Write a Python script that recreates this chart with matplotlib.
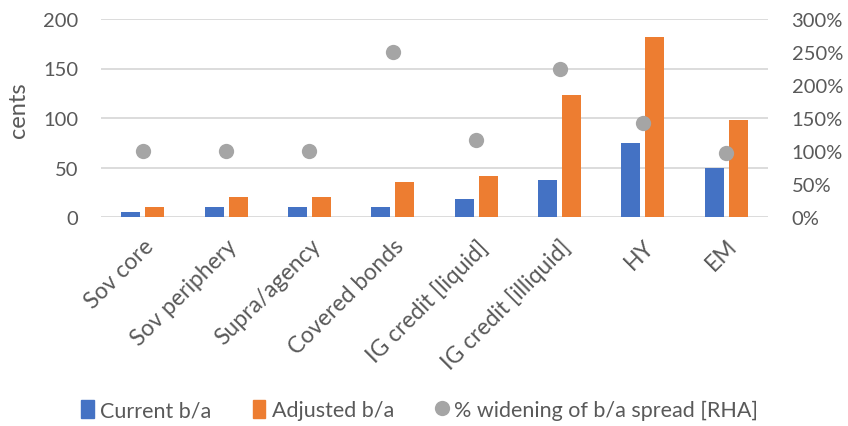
import matplotlib
matplotlib.use("Agg")
import matplotlib.pyplot as plt
import numpy as np
from matplotlib.lines import Line2D
from matplotlib.patches import Patch

categories = ["Sov core", "Sov periphery", "Supra/agency", "Covered bonds",
              "IG credit [liquid]", "IG credit [illiquid]", "HY", "EM"]
current_ba = [5, 10, 10, 10, 18, 37, 75, 50]
adjusted_ba = [10, 20, 20, 35, 41, 123, 182, 98]
widening_pct = [100, 100, 100, 250, 116, 224, 143, 97]

left_ticks = [0, 50, 100, 150, 200]
right_ticks = [0, 50, 100, 150, 200, 250, 300]

BLUE = "#4472C4"
ORANGE = "#ED7D31"
GREY = "#A5A5A5"
TEXT = "#595959"
GRID = "#D9D9D9"

plt.rcParams["font.family"] = ["Lato", "DejaVu Sans"]
tick_fs = 14.5
cat_fs = 16.5
legend_fs = 15.5

fig = plt.figure(figsize=(8.48, 4.27), dpi=100)
ax = fig.add_axes([101 / 848, 1 - 218 / 427, 667 / 848, 198 / 427])
ax2 = ax.twinx()

x = np.arange(len(categories))
w = 0.228
gap = 0.03
ax.bar(x - w / 2 - gap, current_ba, width=w, color=BLUE, zorder=3)
ax.bar(x + w / 2 + gap, adjusted_ba, width=w, color=ORANGE, zorder=3)
ax2.plot(x, widening_pct, linestyle="none", marker="o", markersize=11,
         color=GREY, markeredgewidth=0, zorder=4)

ax.set_xlim(-0.5, len(categories) - 0.5)
ax.set_ylim(0, 200)
ax2.set_ylim(0, 300)
ax.set_yticks(left_ticks)
ax2.set_yticks(right_ticks)
ax2.set_yticklabels([f"{t}%" for t in right_ticks])
ax.yaxis.grid(True, color=GRID, linewidth=1.3, zorder=0)
ax.set_axisbelow(True)

for a in (ax, ax2):
    for s in a.spines.values():
        s.set_visible(False)
    a.tick_params(length=0, labelsize=tick_fs, labelcolor=TEXT)
ax.tick_params(axis="y", pad=16.5)
ax2.tick_params(axis="y", pad=17)

ax.set_xticks(x)
ax.set_xticklabels(categories, rotation=45, ha="right",
                   rotation_mode="anchor", fontsize=cat_fs)
ax.tick_params(axis="x", pad=13)
ax.set_ylabel("cents", fontsize=17, color=TEXT)
ax.yaxis.set_label_coords(-0.108, 0.545)

handles = [Patch(color=BLUE, label="Current b/a"),
           Patch(color=ORANGE, label="Adjusted b/a"),
           Line2D([], [], linestyle="none", marker="o", markersize=11,
                  color=GREY, markeredgewidth=0,
                  label="% widening of b/a spread [RHA]")]
fig.legend(handles=handles, loc="center", bbox_to_anchor=(0.495, 1 - 411 / 427),
           ncol=3, frameon=False, fontsize=legend_fs, labelcolor=TEXT,
           handlelength=0.6, handleheight=0.9, handletextpad=0.3,
           columnspacing=1.9)

fig.savefig("out.png", dpi=100)
